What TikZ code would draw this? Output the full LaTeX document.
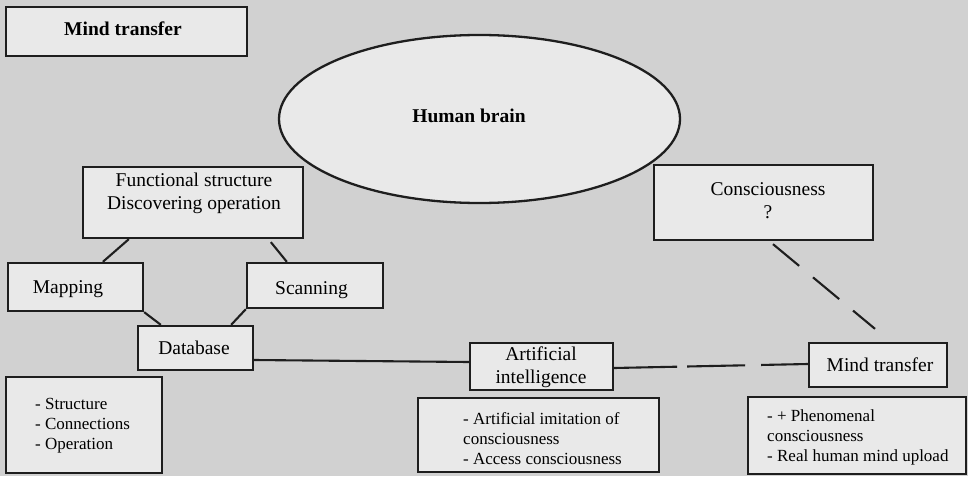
\documentclass[tikz,border=0pt]{standalone}
\usepackage{fontspec}
\setmainfont{Liberation Serif}
\usetikzlibrary{shapes.geometric}
\definecolor{bggray}{RGB}{209,209,209}
\definecolor{boxfill}{RGB}{233,233,233}
\definecolor{edgecol}{RGB}{30,30,30}
\newcommand{\mainsz}{\fontsize{19.5}{23}\selectfont}
\newcommand{\listsz}{\fontsize{17}{19.7}\selectfont}
\begin{document}
\begin{tikzpicture}[x=1pt,y=-1pt,
  box/.style={draw=edgecol, line width=2.3pt, fill=boxfill, inner sep=0pt},
  lbl/.style={inner sep=0pt, font=\mainsz, align=center, anchor=base},
  lst/.style={inner sep=0pt, font=\listsz, align=left, anchor=base west},
  conn/.style={draw=edgecol, line width=2.1pt}]
\fill[bggray] (0,0) rectangle (968,476);
\useasboundingbox (0,0) rectangle (968,476);

% boxes
\node[box, minimum width=241, minimum height=49] (title) at (126.5,31.5) {};
\node[box, ellipse, minimum width=401, minimum height=168] (brain) at (479.5,119) {};
\node[box, minimum width=220, minimum height=71] (func) at (193,202.5) {};
\node[box, minimum width=135, minimum height=48] (mapping) at (75.5,287) {};
\node[box, minimum width=136, minimum height=45] (scanning) at (315,285.5) {};
\node[box, minimum width=115, minimum height=44] (database) at (195.5,348) {};
\node[box, minimum width=219, minimum height=75] (consc) at (763.5,202.5) {};
\node[box, minimum width=143, minimum height=47] (ai) at (541.5,366.5) {};
\node[box, minimum width=138, minimum height=44] (mind) at (878,365) {};
\node[box, minimum width=156, minimum height=96] (list1) at (84,425) {};
\node[box, minimum width=241, minimum height=74] (list2) at (538.5,435) {};
\node[box, minimum width=218, minimum height=77] (list3) at (857,435.5) {};

% texts (base anchor = baseline of last line)
\node[lbl, font=\mainsz\bfseries] (titlet) at (123,36) {Mind transfer};
\node[lbl, font=\mainsz\bfseries] (braint) at (469,123) {Human brain};
\node[lbl] (funct) at (194,209) {Functional structure\\Discovering operation};
\node[lbl] (mappingt) at (68,293) {Mapping};
\node[lbl] (scanningt) at (311.5,294) {Scanning};
\node[lbl] (databaset) at (194,354) {Database};
\node[lbl] (consct) at (768,218) {Consciousness\\?};
\node[lbl] (ait) at (541,383) {Artificial\\intelligence};
\node[lbl] (mindt) at (880,371) {Mind transfer};
\node[lst] (list1t) at (35,449) {- Structure\\- Connections\\- Operation};
\node[lst] (list2t) at (463,464) {- Artificial imitation of\\consciousness\\- Access consciousness};
\node[lst] (list3t) at (767,461) {- + Phenomenal\\consciousness\\- Real human mind upload};

% connectors
\draw[conn] ([xshift=47pt]func.south west) -- ([xshift=96pt]mapping.north west);
\draw[conn] ([xshift=189pt,yshift=-3pt]func.south west) -- ([xshift=41pt]scanning.north west);
\draw[conn] (mapping.south east) -- ([xshift=24pt]database.north west);
\draw[conn] (scanning.south west) -- ([xshift=-23pt]database.north east);
\draw[conn] ([yshift=-12pt]database.east) -- ([yshift=4.5pt]ai.west);
\draw[conn, dash pattern=on 63pt off 10pt on 58pt off 16pt on 60pt off 0pt] ([yshift=-1.5pt]ai.east) -- ([yshift=1pt]mind.west);
\draw[conn, dash pattern=on 34pt off 18pt] ([xshift=9.5pt,yshift=-3pt]consc.south) -- ([xshift=-3pt,yshift=13pt]mind.north);
\end{tikzpicture}
\end{document}
